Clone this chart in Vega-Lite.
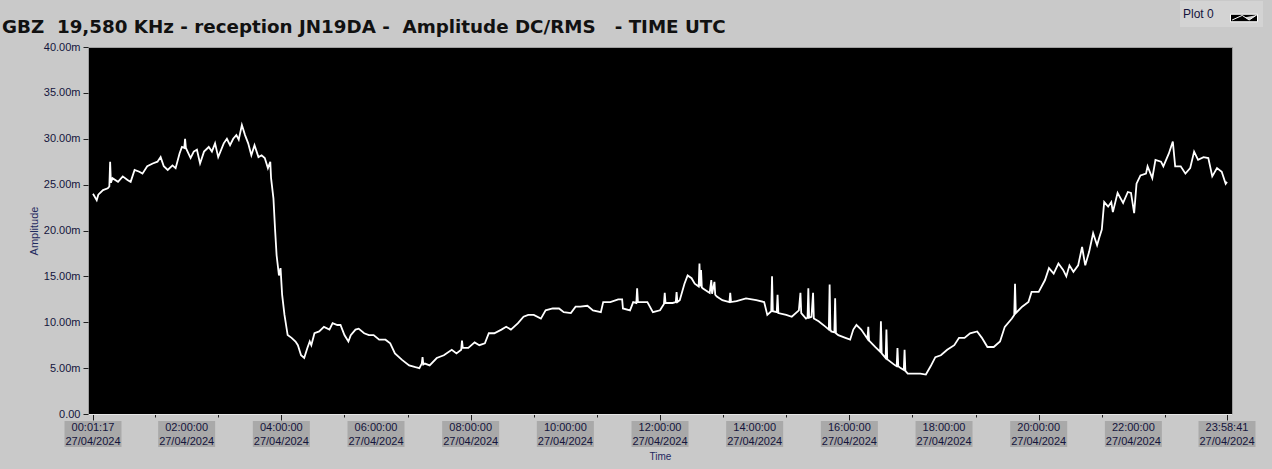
{
  "$schema": "https://vega.github.io/schema/vega-lite/v6.json",
  "width": 1144,
  "height": 367,
  "autosize": "none",
  "padding": {"left": 88, "top": 47, "right": 40, "bottom": 55},
  "background": "#c9c9c9",
  "config": {"view": {"fill": "#000000", "stroke": "#a0a0a0", "strokeWidth": 1}},
  "title": {
    "text": "GBZ\u00a0\u00a019,580 KHz - reception JN19DA -\u00a0\u00a0Amplitude DC/RMS\u00a0\u00a0\u00a0- TIME UTC",
    "anchor": "start", "frame": "group", "dx": -86, "dy": 50, "offset": 0, "baseline": "alphabetic",
    "font": "DejaVu Sans", "fontSize": 18.3, "fontWeight": "bold", "color": "#111111"
  },
  "datasets": {
    "ticks": [
      {"t": "2024-04-27T00:01:17Z", "lab": "00:01:17|27/04/2024"},
      {"t": "2024-04-27T02:00:00Z", "lab": "02:00:00|27/04/2024"},
      {"t": "2024-04-27T04:00:00Z", "lab": "04:00:00|27/04/2024"},
      {"t": "2024-04-27T06:00:00Z", "lab": "06:00:00|27/04/2024"},
      {"t": "2024-04-27T08:00:00Z", "lab": "08:00:00|27/04/2024"},
      {"t": "2024-04-27T10:00:00Z", "lab": "10:00:00|27/04/2024"},
      {"t": "2024-04-27T12:00:00Z", "lab": "12:00:00|27/04/2024"},
      {"t": "2024-04-27T14:00:00Z", "lab": "14:00:00|27/04/2024"},
      {"t": "2024-04-27T16:00:00Z", "lab": "16:00:00|27/04/2024"},
      {"t": "2024-04-27T18:00:00Z", "lab": "18:00:00|27/04/2024"},
      {"t": "2024-04-27T20:00:00Z", "lab": "20:00:00|27/04/2024"},
      {"t": "2024-04-27T22:00:00Z", "lab": "22:00:00|27/04/2024"},
      {"t": "2024-04-27T23:58:41Z", "lab": "23:58:41|27/04/2024"}
    ],
    "series": [
      {"t":"2024-04-27T00:01:17Z","v":24.0},{"t":"2024-04-27T00:06:00Z","v":23.3},{"t":"2024-04-27T00:08:00Z","v":23.9},
      {"t":"2024-04-27T00:14:00Z","v":24.4},{"t":"2024-04-27T00:20:00Z","v":24.6},{"t":"2024-04-27T00:22:00Z","v":24.8},
      {"t":"2024-04-27T00:23:00Z","v":27.5},{"t":"2024-04-27T00:24:00Z","v":25.2},{"t":"2024-04-27T00:26:00Z","v":25.7},
      {"t":"2024-04-27T00:33:00Z","v":25.3},{"t":"2024-04-27T00:39:00Z","v":25.9},{"t":"2024-04-27T00:45:00Z","v":25.5},
      {"t":"2024-04-27T00:49:00Z","v":25.3},{"t":"2024-04-27T00:54:00Z","v":26.6},{"t":"2024-04-27T01:00:00Z","v":26.4},
      {"t":"2024-04-27T01:04:00Z","v":26.2},{"t":"2024-04-27T01:10:00Z","v":27.0},{"t":"2024-04-27T01:17:00Z","v":27.3},
      {"t":"2024-04-27T01:23:00Z","v":27.5},{"t":"2024-04-27T01:27:00Z","v":28.0},{"t":"2024-04-27T01:31:00Z","v":27.0},
      {"t":"2024-04-27T01:36:00Z","v":26.6},{"t":"2024-04-27T01:42:00Z","v":27.1},{"t":"2024-04-27T01:46:00Z","v":26.8},
      {"t":"2024-04-27T01:51:00Z","v":28.4},{"t":"2024-04-27T01:54:00Z","v":29.1},{"t":"2024-04-27T01:57:00Z","v":29.0},
      {"t":"2024-04-27T01:58:00Z","v":30.0},{"t":"2024-04-27T01:59:00Z","v":29.0},{"t":"2024-04-27T02:05:00Z","v":27.9},
      {"t":"2024-04-27T02:09:00Z","v":28.6},{"t":"2024-04-27T02:13:00Z","v":28.8},{"t":"2024-04-27T02:17:00Z","v":27.3},
      {"t":"2024-04-27T02:22:00Z","v":28.6},{"t":"2024-04-27T02:28:00Z","v":29.1},{"t":"2024-04-27T02:32:00Z","v":28.6},
      {"t":"2024-04-27T02:36:00Z","v":29.5},{"t":"2024-04-27T02:40:00Z","v":28.0},{"t":"2024-04-27T02:47:00Z","v":29.5},
      {"t":"2024-04-27T02:51:00Z","v":30.0},{"t":"2024-04-27T02:55:00Z","v":29.3},{"t":"2024-04-27T02:59:00Z","v":30.0},
      {"t":"2024-04-27T03:03:00Z","v":30.4},{"t":"2024-04-27T03:06:00Z","v":29.9},{"t":"2024-04-27T03:10:00Z","v":31.5},
      {"t":"2024-04-27T03:14:00Z","v":30.4},{"t":"2024-04-27T03:18:00Z","v":29.5},{"t":"2024-04-27T03:22:00Z","v":28.2},
      {"t":"2024-04-27T03:26:00Z","v":29.3},{"t":"2024-04-27T03:31:00Z","v":28.0},{"t":"2024-04-27T03:35:00Z","v":28.2},
      {"t":"2024-04-27T03:39:00Z","v":27.9},{"t":"2024-04-27T03:43:00Z","v":26.8},{"t":"2024-04-27T03:46:00Z","v":27.5},
      {"t":"2024-04-27T03:47:00Z","v":25.7},{"t":"2024-04-27T03:50:00Z","v":23.5},{"t":"2024-04-27T03:52:00Z","v":20.2},
      {"t":"2024-04-27T03:54:00Z","v":17.3},{"t":"2024-04-27T03:57:00Z","v":15.1},{"t":"2024-04-27T03:59:00Z","v":15.9},
      {"t":"2024-04-27T04:01:00Z","v":13.0},{"t":"2024-04-27T04:04:00Z","v":10.8},{"t":"2024-04-27T04:08:00Z","v":8.6},
      {"t":"2024-04-27T04:13:00Z","v":8.3},{"t":"2024-04-27T04:18:00Z","v":7.9},{"t":"2024-04-27T04:21:00Z","v":7.5},
      {"t":"2024-04-27T04:25:00Z","v":6.4},{"t":"2024-04-27T04:29:00Z","v":6.1},{"t":"2024-04-27T04:33:00Z","v":7.2},
      {"t":"2024-04-27T04:36:00Z","v":7.9},{"t":"2024-04-27T04:38:00Z","v":7.5},{"t":"2024-04-27T04:42:00Z","v":8.8},
      {"t":"2024-04-27T04:48:00Z","v":9.0},{"t":"2024-04-27T04:54:00Z","v":9.5},{"t":"2024-04-27T05:01:00Z","v":9.2},
      {"t":"2024-04-27T05:05:00Z","v":9.9},{"t":"2024-04-27T05:11:00Z","v":9.7},{"t":"2024-04-27T05:15:00Z","v":9.7},
      {"t":"2024-04-27T05:20:00Z","v":8.6},{"t":"2024-04-27T05:25:00Z","v":7.9},{"t":"2024-04-27T05:28:00Z","v":8.6},
      {"t":"2024-04-27T05:34:00Z","v":9.2},{"t":"2024-04-27T05:38:00Z","v":9.3},{"t":"2024-04-27T05:45:00Z","v":8.8},
      {"t":"2024-04-27T05:51:00Z","v":8.6},{"t":"2024-04-27T05:57:00Z","v":8.6},{"t":"2024-04-27T06:04:00Z","v":8.1},
      {"t":"2024-04-27T06:12:00Z","v":8.1},{"t":"2024-04-27T06:18:00Z","v":7.7},{"t":"2024-04-27T06:24:00Z","v":6.6},
      {"t":"2024-04-27T06:33:00Z","v":5.9},{"t":"2024-04-27T06:42:00Z","v":5.3},{"t":"2024-04-27T06:50:00Z","v":5.1},
      {"t":"2024-04-27T06:55:00Z","v":5.0},{"t":"2024-04-27T06:58:00Z","v":5.5},{"t":"2024-04-27T06:59:00Z","v":6.2},
      {"t":"2024-04-27T07:00:00Z","v":5.4},{"t":"2024-04-27T07:02:00Z","v":5.5},{"t":"2024-04-27T07:08:00Z","v":5.3},
      {"t":"2024-04-27T07:17:00Z","v":6.1},{"t":"2024-04-27T07:26:00Z","v":6.4},{"t":"2024-04-27T07:36:00Z","v":7.0},
      {"t":"2024-04-27T07:42:00Z","v":6.6},{"t":"2024-04-27T07:48:00Z","v":7.0},{"t":"2024-04-27T07:49:00Z","v":8.0},
      {"t":"2024-04-27T07:50:00Z","v":7.2},{"t":"2024-04-27T07:57:00Z","v":7.2},{"t":"2024-04-27T08:05:00Z","v":7.8},
      {"t":"2024-04-27T08:11:00Z","v":7.5},{"t":"2024-04-27T08:18:00Z","v":7.7},{"t":"2024-04-27T08:23:00Z","v":8.8},
      {"t":"2024-04-27T08:30:00Z","v":8.8},{"t":"2024-04-27T08:39:00Z","v":9.2},{"t":"2024-04-27T08:45:00Z","v":9.5},
      {"t":"2024-04-27T08:51:00Z","v":9.2},{"t":"2024-04-27T09:00:00Z","v":9.9},{"t":"2024-04-27T09:07:00Z","v":10.6},
      {"t":"2024-04-27T09:13:00Z","v":10.8},{"t":"2024-04-27T09:20:00Z","v":10.8},{"t":"2024-04-27T09:29:00Z","v":10.4},
      {"t":"2024-04-27T09:35:00Z","v":11.3},{"t":"2024-04-27T09:44:00Z","v":11.5},{"t":"2024-04-27T09:52:00Z","v":11.5},
      {"t":"2024-04-27T09:58:00Z","v":11.1},{"t":"2024-04-27T10:07:00Z","v":11.0},{"t":"2024-04-27T10:13:00Z","v":11.7},
      {"t":"2024-04-27T10:19:00Z","v":11.7},{"t":"2024-04-27T10:28:00Z","v":11.8},{"t":"2024-04-27T10:35:00Z","v":11.3},
      {"t":"2024-04-27T10:45:00Z","v":11.1},{"t":"2024-04-27T10:48:00Z","v":12.2},{"t":"2024-04-27T10:57:00Z","v":12.2},
      {"t":"2024-04-27T11:07:00Z","v":12.5},{"t":"2024-04-27T11:12:00Z","v":12.5},{"t":"2024-04-27T11:13:00Z","v":11.5},
      {"t":"2024-04-27T11:22:00Z","v":11.3},{"t":"2024-04-27T11:26:00Z","v":12.2},{"t":"2024-04-27T11:30:00Z","v":12.1},
      {"t":"2024-04-27T11:31:00Z","v":13.7},{"t":"2024-04-27T11:32:00Z","v":12.2},{"t":"2024-04-27T11:44:00Z","v":12.2},
      {"t":"2024-04-27T11:51:00Z","v":11.1},{"t":"2024-04-27T12:00:00Z","v":11.3},{"t":"2024-04-27T12:05:00Z","v":12.0},
      {"t":"2024-04-27T12:06:00Z","v":13.2},{"t":"2024-04-27T12:07:00Z","v":12.1},{"t":"2024-04-27T12:16:00Z","v":12.1},
      {"t":"2024-04-27T12:20:00Z","v":12.2},{"t":"2024-04-27T12:21:00Z","v":13.3},{"t":"2024-04-27T12:22:00Z","v":12.2},
      {"t":"2024-04-27T12:25:00Z","v":12.4},{"t":"2024-04-27T12:31:00Z","v":14.2},{"t":"2024-04-27T12:35:00Z","v":15.1},
      {"t":"2024-04-27T12:40:00Z","v":14.8},{"t":"2024-04-27T12:44:00Z","v":14.2},{"t":"2024-04-27T12:49:00Z","v":13.9},
      {"t":"2024-04-27T12:50:00Z","v":16.4},{"t":"2024-04-27T12:51:00Z","v":13.9},{"t":"2024-04-27T12:52:00Z","v":15.7},
      {"t":"2024-04-27T12:53:00Z","v":13.8},{"t":"2024-04-27T12:54:00Z","v":13.7},{"t":"2024-04-27T13:03:00Z","v":13.2},
      {"t":"2024-04-27T13:05:00Z","v":14.6},{"t":"2024-04-27T13:06:00Z","v":13.1},{"t":"2024-04-27T13:09:00Z","v":14.4},
      {"t":"2024-04-27T13:10:00Z","v":13.0},{"t":"2024-04-27T13:12:00Z","v":12.8},{"t":"2024-04-27T13:19:00Z","v":12.4},
      {"t":"2024-04-27T13:28:00Z","v":12.2},{"t":"2024-04-27T13:29:00Z","v":13.2},{"t":"2024-04-27T13:30:00Z","v":12.2},
      {"t":"2024-04-27T13:37:00Z","v":12.3},{"t":"2024-04-27T13:49:00Z","v":12.6},{"t":"2024-04-27T14:02:00Z","v":12.4},
      {"t":"2024-04-27T14:12:00Z","v":12.2},{"t":"2024-04-27T14:16:00Z","v":10.8},{"t":"2024-04-27T14:21:00Z","v":11.2},
      {"t":"2024-04-27T14:22:00Z","v":15.0},{"t":"2024-04-27T14:23:00Z","v":11.2},{"t":"2024-04-27T14:28:00Z","v":11.1},
      {"t":"2024-04-27T14:29:00Z","v":13.0},{"t":"2024-04-27T14:30:00Z","v":11.0},{"t":"2024-04-27T14:40:00Z","v":10.8},
      {"t":"2024-04-27T14:47:00Z","v":10.6},{"t":"2024-04-27T14:56:00Z","v":11.3},{"t":"2024-04-27T14:58:00Z","v":13.2},
      {"t":"2024-04-27T14:59:00Z","v":11.0},{"t":"2024-04-27T15:05:00Z","v":10.4},{"t":"2024-04-27T15:07:00Z","v":10.5},
      {"t":"2024-04-27T15:08:00Z","v":13.7},{"t":"2024-04-27T15:09:00Z","v":10.5},{"t":"2024-04-27T15:12:00Z","v":10.6},
      {"t":"2024-04-27T15:14:00Z","v":13.2},{"t":"2024-04-27T15:15:00Z","v":10.4},{"t":"2024-04-27T15:21:00Z","v":10.1},
      {"t":"2024-04-27T15:30:00Z","v":9.5},{"t":"2024-04-27T15:34:00Z","v":9.2},{"t":"2024-04-27T15:35:00Z","v":14.1},
      {"t":"2024-04-27T15:36:00Z","v":9.2},{"t":"2024-04-27T15:37:00Z","v":9.0},{"t":"2024-04-27T15:41:00Z","v":8.9},
      {"t":"2024-04-27T15:42:00Z","v":12.6},{"t":"2024-04-27T15:43:00Z","v":8.8},{"t":"2024-04-27T15:46:00Z","v":8.6},
      {"t":"2024-04-27T15:55:00Z","v":8.3},{"t":"2024-04-27T16:01:00Z","v":8.1},{"t":"2024-04-27T16:05:00Z","v":9.2},
      {"t":"2024-04-27T16:09:00Z","v":9.7},{"t":"2024-04-27T16:15:00Z","v":9.2},{"t":"2024-04-27T16:23:00Z","v":8.2},
      {"t":"2024-04-27T16:24:00Z","v":9.5},{"t":"2024-04-27T16:25:00Z","v":8.0},{"t":"2024-04-27T16:33:00Z","v":7.3},
      {"t":"2024-04-27T16:39:00Z","v":6.8},{"t":"2024-04-27T16:40:00Z","v":10.1},{"t":"2024-04-27T16:41:00Z","v":6.6},
      {"t":"2024-04-27T16:46:00Z","v":6.1},{"t":"2024-04-27T16:47:00Z","v":9.2},{"t":"2024-04-27T16:48:00Z","v":6.0},
      {"t":"2024-04-27T16:49:00Z","v":5.9},{"t":"2024-04-27T16:58:00Z","v":5.3},{"t":"2024-04-27T17:00:00Z","v":5.2},
      {"t":"2024-04-27T17:01:00Z","v":7.2},{"t":"2024-04-27T17:02:00Z","v":5.2},{"t":"2024-04-27T17:05:00Z","v":5.0},
      {"t":"2024-04-27T17:09:00Z","v":4.8},{"t":"2024-04-27T17:10:00Z","v":7.0},{"t":"2024-04-27T17:11:00Z","v":4.7},
      {"t":"2024-04-27T17:14:00Z","v":4.4},{"t":"2024-04-27T17:23:00Z","v":4.4},{"t":"2024-04-27T17:30:00Z","v":4.4},
      {"t":"2024-04-27T17:37:00Z","v":4.3},{"t":"2024-04-27T17:43:00Z","v":5.2},{"t":"2024-04-27T17:49:00Z","v":6.2},
      {"t":"2024-04-27T17:56:00Z","v":6.4},{"t":"2024-04-27T18:04:00Z","v":7.0},{"t":"2024-04-27T18:13:00Z","v":7.5},
      {"t":"2024-04-27T18:19:00Z","v":8.3},{"t":"2024-04-27T18:26:00Z","v":8.3},{"t":"2024-04-27T18:33:00Z","v":8.8},
      {"t":"2024-04-27T18:42:00Z","v":9.0},{"t":"2024-04-27T18:48:00Z","v":8.3},{"t":"2024-04-27T18:55:00Z","v":7.3},
      {"t":"2024-04-27T19:03:00Z","v":7.3},{"t":"2024-04-27T19:11:00Z","v":7.9},{"t":"2024-04-27T19:17:00Z","v":9.5},
      {"t":"2024-04-27T19:26:00Z","v":10.4},{"t":"2024-04-27T19:29:00Z","v":10.8},{"t":"2024-04-27T19:30:00Z","v":14.2},
      {"t":"2024-04-27T19:31:00Z","v":11.0},{"t":"2024-04-27T19:39:00Z","v":11.7},{"t":"2024-04-27T19:47:00Z","v":12.2},
      {"t":"2024-04-27T19:51:00Z","v":13.3},{"t":"2024-04-27T20:00:00Z","v":13.3},{"t":"2024-04-27T20:08:00Z","v":14.6},
      {"t":"2024-04-27T20:13:00Z","v":15.9},{"t":"2024-04-27T20:19:00Z","v":15.3},{"t":"2024-04-27T20:25:00Z","v":16.4},
      {"t":"2024-04-27T20:31:00Z","v":15.7},{"t":"2024-04-27T20:35:00Z","v":15.0},{"t":"2024-04-27T20:39:00Z","v":16.2},
      {"t":"2024-04-27T20:44:00Z","v":15.5},{"t":"2024-04-27T20:50:00Z","v":16.2},{"t":"2024-04-27T20:55:00Z","v":18.2},
      {"t":"2024-04-27T20:59:00Z","v":16.2},{"t":"2024-04-27T21:04:00Z","v":17.7},{"t":"2024-04-27T21:09:00Z","v":19.7},
      {"t":"2024-04-27T21:14:00Z","v":18.4},{"t":"2024-04-27T21:17:00Z","v":19.3},{"t":"2024-04-27T21:20:00Z","v":20.1},
      {"t":"2024-04-27T21:23:00Z","v":23.1},{"t":"2024-04-27T21:28:00Z","v":22.6},{"t":"2024-04-27T21:32:00Z","v":23.1},
      {"t":"2024-04-27T21:34:00Z","v":22.0},{"t":"2024-04-27T21:40:00Z","v":24.1},{"t":"2024-04-27T21:47:00Z","v":23.0},
      {"t":"2024-04-27T21:53:00Z","v":24.2},{"t":"2024-04-27T21:57:00Z","v":24.1},{"t":"2024-04-27T22:01:00Z","v":21.9},
      {"t":"2024-04-27T22:04:00Z","v":25.1},{"t":"2024-04-27T22:09:00Z","v":26.0},{"t":"2024-04-27T22:16:00Z","v":26.2},
      {"t":"2024-04-27T22:18:00Z","v":27.0},{"t":"2024-04-27T22:24:00Z","v":25.7},{"t":"2024-04-27T22:28:00Z","v":27.7},
      {"t":"2024-04-27T22:35:00Z","v":27.5},{"t":"2024-04-27T22:38:00Z","v":27.0},{"t":"2024-04-27T22:45:00Z","v":28.4},
      {"t":"2024-04-27T22:50:00Z","v":29.7},{"t":"2024-04-27T22:53:00Z","v":27.0},{"t":"2024-04-27T23:00:00Z","v":27.0},
      {"t":"2024-04-27T23:06:00Z","v":26.2},{"t":"2024-04-27T23:12:00Z","v":26.8},{"t":"2024-04-27T23:17:00Z","v":28.6},
      {"t":"2024-04-27T23:22:00Z","v":27.7},{"t":"2024-04-27T23:29:00Z","v":28.0},{"t":"2024-04-27T23:35:00Z","v":27.9},
      {"t":"2024-04-27T23:40:00Z","v":25.9},{"t":"2024-04-27T23:46:00Z","v":26.8},{"t":"2024-04-27T23:52:00Z","v":26.4},
      {"t":"2024-04-27T23:57:00Z","v":25.1},{"t":"2024-04-27T23:58:41Z","v":25.3}
    ]
  },
  "layer": [
    {
      "data": {"name": "series"},
      "mark": {"type": "line", "strokeWidth": 1.8},
      "encoding": {
        "x": {
          "field": "t", "type": "temporal", "title": "Time",
          "scale": {"type": "utc", "nice": false, "domain": [1714176077000, 1714262321000]},
          "axis": {
            "values": [1714176077000,
              1714176600000,1714177200000,1714177800000,1714178400000,1714179000000,
              1714179600000,1714180200000,1714180800000,1714181400000,1714182000000,1714182600000,
              1714183200000,1714183800000,1714184400000,1714185000000,1714185600000,1714186200000,
              1714186800000,1714187400000,1714188000000,1714188600000,1714189200000,1714189800000,
              1714190400000,1714191000000,1714191600000,1714192200000,1714192800000,1714193400000,
              1714194000000,1714194600000,1714195200000,1714195800000,1714196400000,1714197000000,
              1714197600000,1714198200000,1714198800000,1714199400000,1714200000000,1714200600000,
              1714201200000,1714201800000,1714202400000,1714203000000,1714203600000,1714204200000,
              1714204800000,1714205400000,1714206000000,1714206600000,1714207200000,1714207800000,
              1714208400000,1714209000000,1714209600000,1714210200000,1714210800000,1714211400000,
              1714212000000,1714212600000,1714213200000,1714213800000,1714214400000,1714215000000,
              1714215600000,1714216200000,1714216800000,1714217400000,1714218000000,1714218600000,
              1714219200000,1714219800000,1714220400000,1714221000000,1714221600000,1714222200000,
              1714222800000,1714223400000,1714224000000,1714224600000,1714225200000,1714225800000,
              1714226400000,1714227000000,1714227600000,1714228200000,1714228800000,1714229400000,
              1714230000000,1714230600000,1714231200000,1714231800000,1714232400000,1714233000000,
              1714233600000,1714234200000,1714234800000,1714235400000,1714236000000,1714236600000,
              1714237200000,1714237800000,1714238400000,1714239000000,1714239600000,1714240200000,
              1714240800000,1714241400000,1714242000000,1714242600000,1714243200000,1714243800000,
              1714244400000,1714245000000,1714245600000,1714246200000,1714246800000,1714247400000,
              1714248000000,1714248600000,1714249200000,1714249800000,1714250400000,1714251000000,
              1714251600000,1714252200000,1714252800000,1714253400000,1714254000000,1714254600000,
              1714255200000,1714255800000,1714256400000,1714257000000,1714257600000,1714258200000,
              1714258800000,1714259400000,1714260000000,1714260600000,1714261200000,1714261800000,
              1714262321000],
            "labels": false,
            "tickSize": {"condition": {"test": "utcseconds(datum.value) != 0 || (utcminutes(datum.value) == 0 && utchours(datum.value) % 2 == 0)", "value": 6}, "value": 3},
            "tickColor": "#202020", "domain": true, "domainColor": "#e6e6e6", "grid": false,
            "titleFont": "Liberation Sans", "titleFontSize": 10, "titleFontWeight": "normal",
            "titleColor": "#1f2a60", "titlePadding": 31, "zindex": 2
          }
        },
        "y": {
          "field": "v", "type": "quantitative", "title": "Amplitude",
          "scale": {"domain": [0, 40], "nice": false, "zero": false},
          "axis": {
            "values": [0, 2.5, 5, 7.5, 10, 12.5, 15, 17.5, 20, 22.5, 25, 27.5, 30, 32.5, 35, 37.5, 40],
            "labelExpr": "datum.value == 0 ? '0.00' : format(datum.value, '.2f') + 'm'",
            "labelFont": "Liberation Sans", "labelFontSize": 11, "labelColor": "#14143c", "labelPadding": 3,
            "labelOverlap": false, "labelBound": false,
            "tickSize": 5, "tickColor": "#202020", "domain": false, "grid": false,
            "titleFont": "Liberation Sans", "titleFontSize": 11, "titleFontWeight": "normal",
            "titleColor": "#1f2a60", "titlePadding": 4, "zindex": 2
          }
        },
        "stroke": {
          "datum": "Plot 0", "type": "nominal",
          "scale": {"range": ["#ffffff"]},
          "legend": {
            "orient": "none", "legendX": 1092, "legendY": -46,
            "title": "Plot 0", "titleOrient": "left", "titleFont": "Liberation Sans", "titleFontSize": 12,
            "titleFontWeight": "normal", "titleColor": "#14143c", "titlePadding": 16,
            "labelExpr": "''", "labelOffset": 0,
            "symbolType": "M-1,-0.28H1V0.28H-1Z M-0.88,0.15L-0.13,-0.19L0.38,0.15L0.95,-0.23",
            "symbolSize": 729, "symbolStrokeWidth": 1,
            "fillColor": "#d3d3d3", "padding": 3,
            "encode": {"symbols": {"update": {"fill": {"value": "#000000"}, "stroke": {"value": "#ffffff"}}}}
          }
        }
      }
    },
    {
      "data": {"name": "ticks"},
      "mark": {"type": "bar", "width": 57, "color": "#a9a9a9"},
      "encoding": {
        "x": {"field": "t", "type": "temporal", "title": "Time"},
        "y": {"datum": -0.75, "type": "quantitative", "title": "Amplitude"},
        "y2": {"datum": -3.6}
      }
    },
    {
      "data": {"name": "ticks"},
      "mark": {"type": "text", "lineBreak": "|", "baseline": "top", "align": "center", "font": "Liberation Sans", "fontSize": 11, "lineHeight": 14, "color": "#14143c", "dy": 1},
      "encoding": {
        "x": {"field": "t", "type": "temporal", "title": "Time"},
        "y": {"datum": -0.75, "type": "quantitative", "title": "Amplitude"},
        "text": {"field": "lab", "type": "nominal"}
      }
    }
  ]
}
